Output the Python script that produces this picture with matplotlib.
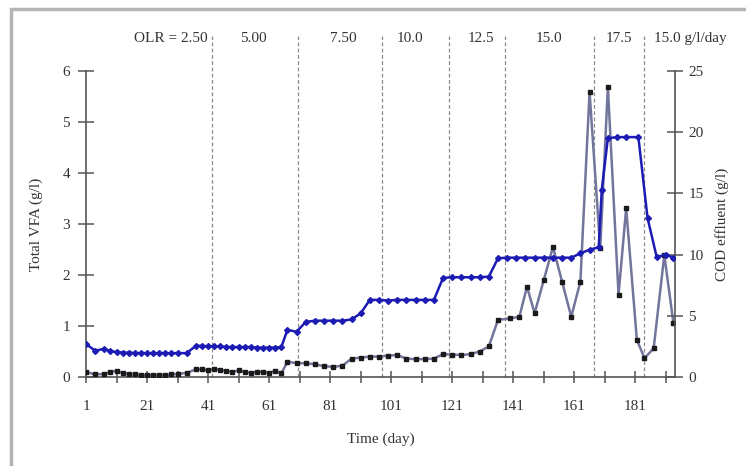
import matplotlib
matplotlib.use('Agg')
import matplotlib.pyplot as plt
from matplotlib.patches import Rectangle

plt.rcParams['font.family'] = ['Liberation Serif', 'DejaVu Serif']

# COD effluent (g/l), right axis
cod_days = [1, 4, 7, 9, 11, 13, 15, 17, 19, 21, 23, 25, 27, 29, 31, 34,
            37, 39, 41, 43, 45, 47, 49, 51, 53, 55, 57, 59, 61, 63, 65,
            67, 70, 73, 76, 79, 82, 85, 88, 91, 94, 97, 100, 103, 106, 109,
            112, 115, 118, 121, 124, 127, 130, 133, 136, 139, 142, 145, 148,
            151, 154, 157, 160, 163, 166, 169, 170, 172, 175, 178, 182, 185,
            188, 191, 193.5]
cod = [2.7, 2.15, 2.3, 2.1, 2.05, 2.0, 2.0, 1.95, 1.95, 1.95, 1.95, 1.95,
       1.95, 1.95, 1.95, 1.95, 2.55, 2.55, 2.5, 2.5, 2.5, 2.45, 2.45, 2.45,
       2.45, 2.45, 2.4, 2.4, 2.4, 2.4, 2.45, 3.85, 3.7, 4.5, 4.6, 4.6, 4.6,
       4.6, 4.7, 5.2, 6.3, 6.3, 6.25, 6.3, 6.3, 6.3, 6.3, 6.3, 8.1, 8.15,
       8.15, 8.15, 8.15, 8.2, 9.7, 9.75, 9.75, 9.75, 9.75, 9.75, 9.75, 9.75,
       9.75, 10.1, 10.4, 10.6, 15.3, 19.5, 19.6, 19.6, 19.6, 13.0, 9.8, 10.0,
       9.75]

# total VFA (g/l), left axis
vfa_days = [1, 4, 7, 9, 11, 13, 15, 17, 19, 21, 23, 25, 27, 29, 31, 34,
            37, 39, 41, 43, 45, 47, 49, 51, 53, 55, 57, 59, 61, 63, 65,
            67, 70, 73, 76, 79, 82, 85, 88, 91, 94, 97, 100, 103, 106, 109,
            112, 115, 118, 121, 124, 127, 130, 133, 136, 140, 143, 145.5, 148,
            151, 154, 157, 160, 163, 166, 169.5, 172, 175.5, 178, 181.5, 184,
            187, 190.5, 193.5]
vfa = [0.1, 0.05, 0.06, 0.1, 0.12, 0.08, 0.06, 0.05, 0.04, 0.04, 0.04, 0.04,
       0.04, 0.05, 0.06, 0.08, 0.15, 0.15, 0.13, 0.16, 0.14, 0.12, 0.1, 0.13,
       0.1, 0.08, 0.1, 0.1, 0.08, 0.12, 0.07, 0.3, 0.27, 0.27, 0.25, 0.21,
       0.2, 0.22, 0.36, 0.38, 0.4, 0.4, 0.42, 0.43, 0.36, 0.35, 0.35, 0.36,
       0.45, 0.44, 0.43, 0.45, 0.5, 0.6, 1.12, 1.15, 1.18, 1.77, 1.25, 1.9,
       2.55, 1.87, 1.18, 1.87, 5.59, 2.52, 5.69, 1.61, 3.31, 0.73, 0.37,
       0.56, 2.39, 1.05]

# OLR periods
olr_change_days = [42.3, 70.5, 98, 120, 138.4, 167.5, 183.7]
olr_labels = ['OLR = 2.50', '5.00', '7.50', '10.0', '12.5', '15.0', '17.5', '15.0 g/l/day']
olr_label_x = [40.8, 55.8, 85.3, 107.2, 130.5, 152.8, 175.8, 187]

fig = plt.figure(figsize=(7.46, 4.66), dpi=100)
fig.patches.append(Rectangle((11/746, -0.1), 1.1, 0.1 + 1 - 9/466,
                             transform=fig.transFigure, fill=False,
                             edgecolor='#b4b4b4', lw=2.5))
ax = fig.add_axes([86/746, 89/466, 589/746, 306/466])
ax2 = ax.twinx()

ax.plot(vfa_days, vfa, color='#72759c', lw=1.8, marker='s', ms=3.5,
        mfc='#1a1a1a', mec='#1a1a1a', zorder=3)
ax2.plot(cod_days, cod, color='#1c1cb4', lw=1.8, marker='D', ms=3.0,
         mfc='#1c1cb4', mec='#1c1cb4', zorder=3)

ax.set_xlim(1, 194)
ax.set_ylim(0, 6)
ax2.set_ylim(0, 25)

for d in olr_change_days:
    ax.plot([d, d], [0, 6.68], color='#8c8c8c', lw=0.9, ls=(0, (3, 2)),
            clip_on=False, zorder=1)
for i, t in enumerate(olr_labels):
    ha = 'center'
    if i == 0:
        ha = 'right'
    elif i == len(olr_labels) - 1:
        ha = 'left'
    ax.text(olr_label_x[i], 6.63, t, ha=ha, va='center', fontsize=11,
            color='#333333')

for a in (ax, ax2):
    a.spines['top'].set_visible(False)
    for s in ('left', 'right', 'bottom'):
        a.spines[s].set_color('#555555')
        a.spines[s].set_linewidth(1.2)
ax.spines['right'].set_visible(False)
ax2.spines['left'].set_visible(False)
ax2.spines['bottom'].set_visible(False)

ax.set_xticks(range(1, 195, 20))
ax.set_xticks(range(11, 195, 20), minor=True)
ax.set_yticks(range(0, 7))
ax2.set_yticks(range(0, 26, 5))
ax.tick_params(axis='x', which='both', direction='inout', length=9, width=1.1,
               color='#555555', labelsize=11, labelcolor='#333333', pad=12)
ax.tick_params(axis='y', direction='inout', length=11, width=1.1,
               color='#555555', labelsize=11, labelcolor='#333333', pad=6)
ax2.tick_params(axis='y', direction='inout', length=11, width=1.1,
                color='#555555', labelsize=11, labelcolor='#333333', pad=4)

ax.set_xlabel('Time (day)', fontsize=11, color='#333333', labelpad=14)
ax.set_ylabel('Total VFA (g/l)', fontsize=11, color='#333333', labelpad=14)
ax2.set_ylabel('COD effluent (g/l)', fontsize=11, color='#333333', labelpad=8)

fig.savefig('out.png', dpi=100)
